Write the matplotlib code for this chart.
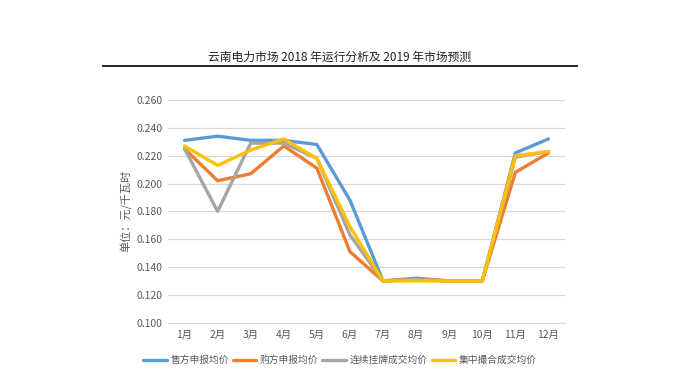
import matplotlib
matplotlib.use("Agg")
import matplotlib.pyplot as plt
from matplotlib.lines import Line2D

plt.rcParams['font.family'] = ['Noto Sans CJK SC', 'DejaVu Sans']

months = ['1月', '2月', '3月', '4月', '5月', '6月', '7月', '8月', '9月', '10月', '11月', '12月']
seller = [0.231, 0.234, 0.231, 0.231, 0.228, 0.188, 0.130, 0.131, 0.130, 0.130, 0.222, 0.232]
buyer = [0.225, 0.202, 0.207, 0.227, 0.211, 0.151, 0.130, 0.132, 0.130, 0.130, 0.208, 0.222]
listing = [0.225, 0.180, 0.229, 0.229, 0.218, 0.163, 0.130, 0.131, 0.130, 0.130, 0.219, 0.223]
matching = [0.227, 0.213, 0.224, 0.232, 0.218, 0.169, 0.130, 0.130, 0.130, 0.130, 0.220, 0.223]
series_names = ['售方申报均价', '购方申报均价', '连续挂牌成交均价', '集中撮合成交均价']
yticks = [0.100, 0.120, 0.140, 0.160, 0.180, 0.200, 0.220, 0.240, 0.260]

colors = ['#5B9BD5', '#ED7D31', '#A5A5A5', '#FFC000']

fig = plt.figure(figsize=(6.8, 3.8), dpi=100)
fig.patch.set_facecolor('white')

# title and rule
fig.text(0.5, 1 - 57 / 380, '云南电力市场 2018 年运行分析及 2019 年市场预测',
         ha='center', va='center', fontsize=8.5, color='#222222')
fig.add_artist(Line2D([103 / 680, 577 / 680], [1 - 66 / 380, 1 - 66 / 380],
                      color='#111111', linewidth=1.3))

ax = fig.add_axes([168 / 680, 1 - 322.7 / 380, 397 / 680, 222.7 / 380])
x = list(range(len(months)))
for vals, c, name in zip([seller, buyer, listing, matching], colors, series_names):
    ax.plot(x, vals, color=c, linewidth=2.4, label=name, solid_capstyle='round')

ax.set_xlim(-0.5, len(months) - 0.5)
ax.set_ylim(0.100, 0.260)
ax.set_yticks(yticks)
ax.set_yticklabels([f'{v:.3f}' for v in yticks])
ax.set_xticks(x)
ax.set_xticklabels(months)
ax.grid(axis='y', color='#D9D9D9', linewidth=0.9)
ax.set_axisbelow(True)
for s in ['top', 'right', 'left']:
    ax.spines[s].set_visible(False)
ax.spines['bottom'].set_color('#D9D9D9')
ax.tick_params(axis='both', length=0, labelsize=7.5, colors='#595959')
ax.tick_params(axis='y', pad=4)
ax.tick_params(axis='x', pad=5)
ax.set_ylabel('单位：元/千瓦时', fontsize=8, color='#595959', labelpad=3)

fig.legend(loc='center', bbox_to_anchor=(0.5, 1 - 360 / 380), ncol=4, frameon=False,
           fontsize=7, labelcolor='#595959', handlelength=2.4, columnspacing=0.4,
           handletextpad=0.4)

fig.savefig('out.png', dpi=100, facecolor='white')
